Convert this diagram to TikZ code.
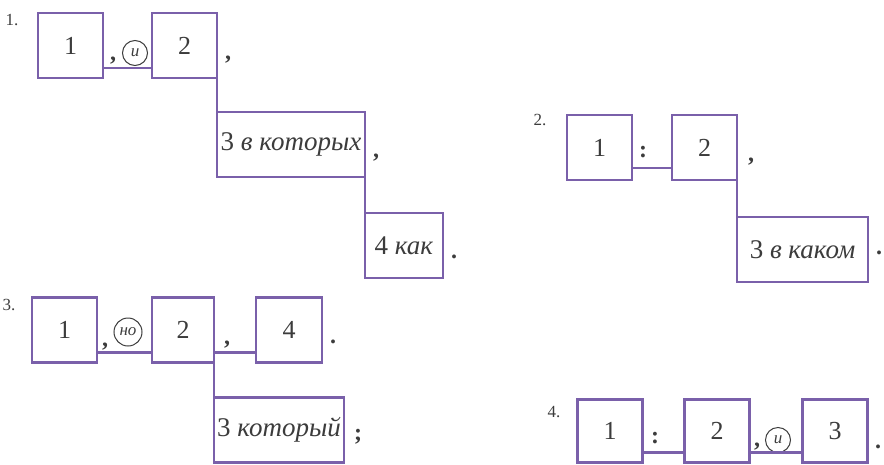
\documentclass[tikz,border=0pt]{standalone}
\usepackage{fontspec}
\setmainfont{Liberation Serif}
\usetikzlibrary{positioning, calc}
\definecolor{schemeline}{RGB}{122,96,170}
\definecolor{schemetext}{RGB}{60,60,60}

\begin{document}
\begin{tikzpicture}[
    x=1pt, y=-1pt,
    node distance=40pt,
    box/.style={rectangle, draw=schemeline, line width=2.7pt, outer sep=0pt, inner sep=0pt, minimum width=65pt, minimum height=65pt, text=schemetext, font=\fontsize{26}{28}\selectfont},
    wordbox/.style={box, font=\fontsize{27}{29}\selectfont},
    link/.style={draw=schemeline, line width=2.7pt},
    conj/.style={circle, draw=schemetext, line width=1pt, inner sep=0pt, minimum size=25pt, text=schemetext, font=\fontsize{17}{18}\selectfont\itshape},
    punct/.style={inner sep=0pt, text=schemetext, font=\fontsize{24}{26}\selectfont\bfseries},
    numlabel/.style={inner sep=0pt, text=schemetext, font=\fontsize{17}{18}\selectfont}
]
\useasboundingbox (0,0) rectangle (884,464);

% Scheme 1
\node (n1) [numlabel] at (12,20) {1.};
\node (a1) [box] at (70.5,45.5) {1};
\node (a2) [box, right=49pt of a1] {2};
\node (a3) [wordbox, minimum width=148pt, below right=34pt and 0pt of a2.south east] {3 \textit{в которых}};
\node (a4) [wordbox, minimum width=78pt, below right=36pt and 0pt of a3.south east] {4 \textit{как}};
\node (i1) [conj] at (135,53) {и};
\node (p11) [punct] at (113,61) {,};
\node (p12) [punct] at (228,60) {,};
\node (p13) [punct] at (376,158) {,};
\node (p14) [punct] at (454,257) {.};

% Scheme 2
\node (n2) [numlabel] at (540,120) {2.};
\node (b1) [box] at (599.5,147.5) {1};
\node (b2) [box, right=40pt of b1] {2};
\node (b3) [wordbox, minimum width=131pt, below right=37pt and 0pt of b2.south east] {3 \textit{в каком}};
\node (p21) [punct] at (643,152) {:};
\node (p22) [punct] at (751,162) {,};
\node (p23) [punct] at (879,253) {.};

% Scheme 3
\node (n3) [numlabel] at (9,305) {3.};
\node (c1) [box] at (64.5,330) {1};
\node (c2) [box, minimum width=62pt, right=55pt of c1] {2};
\node (c4) [box, minimum width=66pt, right=42pt of c2] {4};
\node (c3) [wordbox, minimum width=130pt, below right=35pt and 0pt of c2.south east] {3 \textit{который}};
\node (i3) [conj, minimum size=28pt] at (128,332) {но};
\node (p31) [punct] at (105,347) {,};
\node (p32) [punct] at (227,345) {,};
\node (p33) [punct] at (333,342) {.};
\node (p34) [punct] at (358,437) {;};

% Scheme 4
\node (n4) [numlabel] at (554,412) {4.};
\node (d1) [box, minimum height=63pt] at (610,431) {1};
\node (d2) [box, minimum height=63pt, right=42pt of d1] {2};
\node (d3) [box, minimum height=63pt, right=53pt of d2] {3};
\node (i4) [conj] at (778,440) {и};
\node (p41) [punct] at (655,438) {:};
\node (p42) [punct] at (757,447) {,};
\node (p43) [punct] at (878,447) {.};

% Lines
\draw [link] ([yshift=10pt]a1.south east) -- ([yshift=10pt]a2.south west);
\draw [link] (a2.south east) -- (a3.north west);
\draw [link] (a3.south east) -- (a4.north west);
\draw [link] ([yshift=12pt]b1.south east) -- ([yshift=12pt]b2.south west);
\draw [link] (b2.south east) -- (b3.north west);
\draw [link] ([yshift=10pt]c1.south east) -- ([yshift=10pt]c2.south west);
\draw [link] ([yshift=10pt]c2.south east) -- ([yshift=10pt]c4.south west);
\draw [link] (c2.south east) -- (c3.north west);
\draw [link] ([yshift=10pt]d1.south east) -- ([yshift=10pt]d2.south west);
\draw [link] ([yshift=10pt]d2.south east) -- ([yshift=10pt]d3.south west);

\end{tikzpicture}
\end{document}
